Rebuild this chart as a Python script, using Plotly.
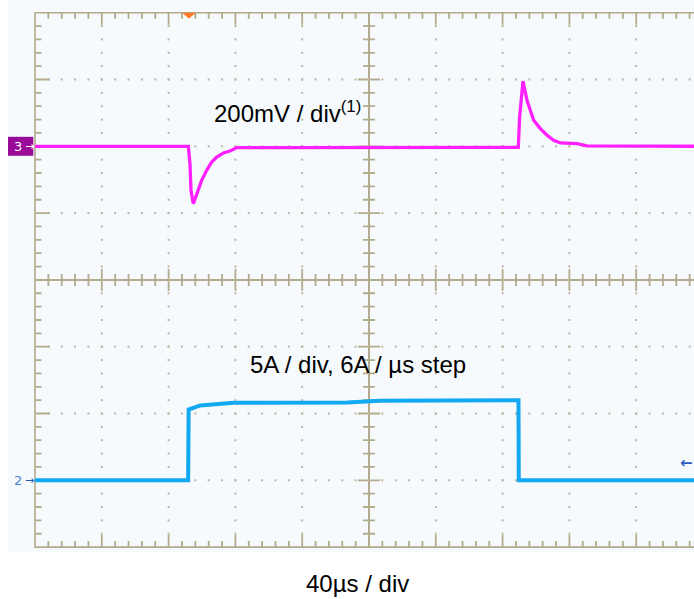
import plotly.graph_objects as go

# ---------------- scope settings ----------------
TIME_PER_DIV_US = 40          # 40 µs / div
CH3_MV_PER_DIV = 200          # 200 mV / div
CH2_A_PER_DIV = 5             # 5 A / div
CH3_OFFSET_DIV = 2.0          # channel 3 ground marker (divisions from centre)
CH2_OFFSET_DIV = -3.0         # channel 2 ground marker
TRIGGER_T_US = -107.8         # trigger position
CH2_TRIG_LEVEL_A = 1.27       # trigger level marker on the right

# ---------------- channel 3 : output voltage deviation (mV) ----------------
ch3_t_us = [-200, -108.2, -107.2, -106.6, -105.2, -103.2, -100.2, -97.2, -94.2,
            -91.2, -87.2, -83.2, -79.2, 89.4, 90.2, 92.2, 94.6, 98.6, 102.6,
            106.6, 110.6, 114.6, 124.6, 130.5, 200]
ch3_mv = [0, 0, -52, -132, -172, -146, -102, -72, -47,
          -32, -20, -14, -4, -3, 88, 195, 138, 78, 53,
          33, 18, 10, 8, 1, 0]

# ---------------- channel 2 : load current (A) ----------------
ch2_t_us = [-200, -108.3, -108.0, -101.0, -81.0, -13.0, 6.6, 86.8, 89.5, 89.7, 200]
ch2_a = [0, 0, 5.3, 5.6, 5.8, 5.82, 5.95, 6.0, 6.0, 0, 0]

# ---------------- labels ----------------
label_ch3 = "200mV / div<sup>(1)</sup>"
label_ch2 = "5A / div, 6A / µs step"
label_time = "40µs / div"

# ---------------- screen geometry ----------------
W, H = 694, 599
PX_PER_DIV = 66.8
X_CENTER_PX = 369.0
Y_CENTER_PX = 279.9
N_XDIV, N_YDIV = 10, 8
MINOR = 5

def dx(px):
    return px * TIME_PER_DIV_US / PX_PER_DIV

def dy(px):
    return px / PX_PER_DIV

x_range = [-dx(X_CENTER_PX), dx(W - X_CENTER_PX)]
y_range = [-dy(H - Y_CENTER_PX), dy(Y_CENTER_PX)]

XL = -N_XDIV / 2 * TIME_PER_DIV_US
XR = N_XDIV / 2 * TIME_PER_DIV_US
YB = -N_YDIV / 2
YT = N_YDIV / 2
xstep = TIME_PER_DIV_US / MINOR
ystep = 1 / MINOR

GRID = "#b3ab8c"
DOT = "#bcb6a0"
BG = "#f6fafd"

def px_x(p):   # page pixel -> paper x
    return p / W

def px_y(p):   # page pixel -> paper y
    return 1 - p / H

fig = go.Figure()

# grid dots
gx, gy = [], []
for i in range(1, N_XDIV):
    t = XL + i * TIME_PER_DIV_US
    if abs(t) < 1e-9:
        continue
    for j in range(1, N_YDIV * MINOR):
        gx.append(t)
        gy.append(YB + j * ystep)
for i in range(1, N_YDIV):
    y = YB + i
    if abs(y) < 1e-9:
        continue
    for k in range(1, N_XDIV * MINOR):
        gx.append(XL + k * xstep)
        gy.append(y)
fig.add_trace(go.Scatter(x=gx, y=gy, mode="markers",
                         marker=dict(symbol="square", size=2, color=DOT, line=dict(width=0)),
                         hoverinfo="skip"))

# tick marks (border + centre cross)
segs = []
def seg(x0, y0, x1, y1):
    segs.append(f"M{x0:.4f},{y0:.4f}L{x1:.4f},{y1:.4f}")

for k in range(1, N_XDIV * MINOR):
    t = XL + k * xstep
    major = k % MINOR == 0
    L = 12 if major else 6
    seg(t, YT, t, YT - dy(L))
    seg(t, YB, t, YB + dy(L))
    if abs(t) > 1e-9:
        Lc = 11 if major else 6
        seg(t, -dy(Lc), t, dy(Lc))
for j in range(1, N_YDIV * MINOR):
    y = YB + j * ystep
    major = j % MINOR == 0
    L = 15 if major else 6.5
    seg(XL, y, XL + dx(L), y)
    if abs(y) > 1e-9:
        Lc = 11 if major else 6
        seg(-dx(Lc), y, dx(Lc), y)

shapes = [
    dict(type="rect", xref="paper", yref="paper", x0=px_x(8), x1=1, y0=px_y(552), y1=1,
         fillcolor=BG, line=dict(width=0), layer="below"),
    dict(type="path", xref="x", yref="y", path="".join(segs),
         line=dict(color=GRID, width=1.8), layer="below"),
    dict(type="rect", xref="x", yref="y", x0=XL, x1=XR, y0=YB, y1=YT,
         line=dict(color=GRID, width=1.6), layer="below"),
    dict(type="line", xref="x", yref="y", x0=0, x1=0, y0=YB, y1=YT,
         line=dict(color=GRID, width=2), layer="below"),
    dict(type="line", xref="x", yref="y", x0=XL, x1=XR, y0=0, y1=0,
         line=dict(color=GRID, width=2), layer="below"),
    # trigger position marker
    dict(type="path", xref="x", yref="y",
         path=(f"M{TRIGGER_T_US - dx(7):.4f},{YT:.4f}L{TRIGGER_T_US + dx(7):.4f},{YT:.4f}"
               f"L{TRIGGER_T_US:.4f},{YT - dy(5.8):.4f}Z"),
         fillcolor="#ff7a26", line=dict(width=0), layer="above"),
    # channel 3 marker box
    dict(type="rect", xref="x", yref="y", x0=XL - dx(27), x1=XL - dx(1.7),
         y0=CH3_OFFSET_DIV - dy(9.5), y1=CH3_OFFSET_DIV + dy(9.5),
         fillcolor="#990a99", line=dict(width=0), layer="above"),
]

# traces
fig.add_trace(go.Scatter(x=ch3_t_us, y=[CH3_OFFSET_DIV + v / CH3_MV_PER_DIV for v in ch3_mv],
                         mode="lines", line=dict(color="#ff20ff", width=3.3), hoverinfo="skip"))
fig.add_trace(go.Scatter(x=ch2_t_us, y=[CH2_OFFSET_DIV + a / CH2_A_PER_DIV for a in ch2_a],
                         mode="lines", line=dict(color="#12a8f2", width=4), hoverinfo="skip"))

ann = [
    dict(x=XL - dx(17), y=CH3_OFFSET_DIV, xref="x", yref="y", text="3", showarrow=False,
         font=dict(family="DejaVu Sans", size=13, color="white")),
    dict(x=XL - dx(6), y=CH3_OFFSET_DIV, xref="x", yref="y", text="→", showarrow=False,
         font=dict(family="DejaVu Sans", size=11, color="white")),
    dict(x=XL - dx(17), y=CH2_OFFSET_DIV, xref="x", yref="y", text="2", showarrow=False,
         font=dict(family="DejaVu Sans", size=13, color="#4a7fd0")),
    dict(x=XL - dx(6), y=CH2_OFFSET_DIV, xref="x", yref="y", text="→", showarrow=False,
         font=dict(family="DejaVu Sans", size=11, color="#1d56b5")),
    dict(x=dx(686 - X_CENTER_PX), y=CH2_OFFSET_DIV + CH2_TRIG_LEVEL_A / CH2_A_PER_DIV,
         xref="x", yref="y", text="<b>←</b>", showarrow=False,
         font=dict(family="DejaVu Sans", size=15, color="#2a5fc0")),
    dict(x=px_x(287), y=px_y(112), xref="paper", yref="paper", text=label_ch3,
         showarrow=False, xanchor="center", yanchor="middle",
         font=dict(family="Liberation Sans, Arial", size=24, color="black")),
    dict(x=px_x(358), y=px_y(364), xref="paper", yref="paper", text=label_ch2,
         showarrow=False, xanchor="center", yanchor="middle",
         font=dict(family="Liberation Sans, Arial", size=24, color="black")),
    dict(x=px_x(357.5), y=px_y(583), xref="paper", yref="paper", text=label_time,
         showarrow=False, xanchor="center", yanchor="middle",
         font=dict(family="Liberation Sans, Arial", size=24, color="black")),
]

fig.update_layout(
    width=W, height=H, autosize=False,
    margin=dict(l=0, r=0, t=0, b=0),
    paper_bgcolor="white", plot_bgcolor="white",
    showlegend=False, hovermode=False,
    xaxis=dict(range=x_range, visible=False, fixedrange=True),
    yaxis=dict(range=y_range, visible=False, fixedrange=True),
    shapes=shapes, annotations=ann,
)

# remove the default 8px page margin so the figure fills the window exactly
fig.write_html("out.html",
               config={"displayModeBar": False, "staticPlot": True},
               post_script="document.body.style.margin='0';document.body.style.overflow='hidden';")
